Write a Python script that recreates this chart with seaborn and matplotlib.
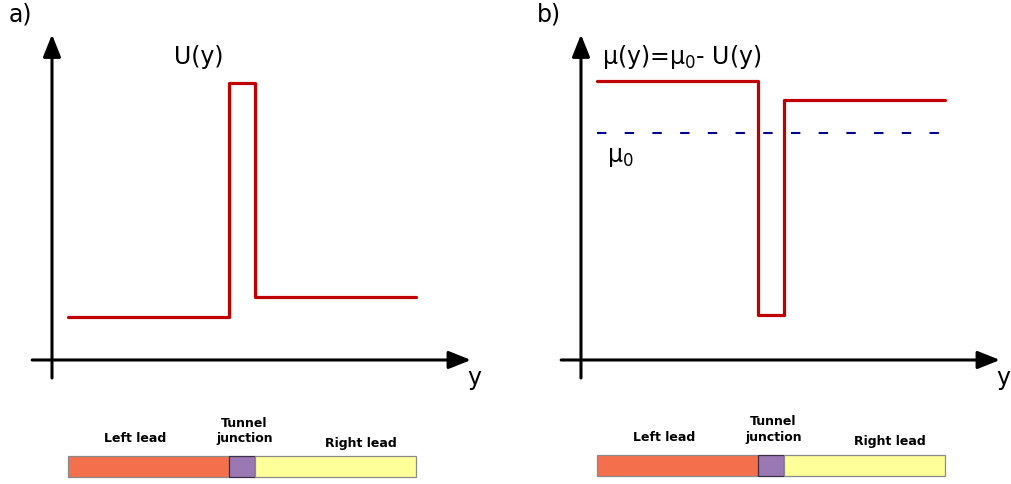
import matplotlib
matplotlib.use('Agg')
import matplotlib.pyplot as plt
import seaborn as sns

sns.set_style('white')
plt.rcParams['font.family'] = ['DejaVu Sans']
plt.rcParams['text.color'] = 'black'

# Perfil em degraus (posição ao longo do fio, unidades arbitrárias)
edges = [0, 4.63, 5.38, 10]
U_levels = [1.55, 10.0, 2.27]          # painel a) U(y)
mu_levels = [10.07, 1.62, 9.39]        # painel b) mu(y)
mu0 = 8.2
mu0_end = 9.83

# Barra das regiões
seg_left = edges[:-1]
seg_width = [edges[i + 1] - edges[i] for i in range(3)]
seg_colors = ['#f4704c', '#9a78b4', '#ffff99']
seg_edges = ['#8a8a8a', '#3a2f45', '#8a8a8a']
seg_names = ['Left lead', 'Tunnel\njunction', 'Right lead']
seg_text_x = [1.92, 5.07, 8.43]
seg_text_y = [-2.85, -2.56, -3.0]

RED = '#c00000'
BLUE = '#00008f'

fig = plt.figure(figsize=(10.12, 4.84), dpi=100)
W, H = 1012, 484
ax_a = fig.add_axes([0 / W, 0, 480 / W, 1])
ax_b = fig.add_axes([529 / W, 0, 480 / W, 1])


def desenha_eixos(ax, letra):
    ax.set_xlim(-1.954, 11.84)
    ax.set_ylim(-4.477, 12.996)
    ax.axis('off')
    seta = dict(arrowstyle='-|>,head_length=0.5,head_width=0.2', lw=2.2,
                color='black', mutation_scale=27, shrinkA=0, shrinkB=0)
    ax.annotate('', xy=(-0.46, 11.75), xytext=(-0.46, -0.65), arrowprops=seta)
    ax.annotate('', xy=(11.58, 0), xytext=(-1.03, 0), arrowprops=seta)
    ax.text(11.67, -0.65, 'y', fontsize=17, ha='center', va='center')
    ax.text(-1.72, 12.49, letra, fontsize=17, ha='left', va='center')


def desenha_barra(ax, dy):
    ax.barh(y=-3.855 + dy, width=seg_width, left=seg_left, height=0.77,
            color=seg_colors, edgecolor=seg_edges, linewidth=0.9)
    for nome, tx, ty in zip(seg_names, seg_text_x, seg_text_y):
        ax.text(tx, ty + dy, nome, fontsize=9, fontweight='bold',
                ha='center', va='center', linespacing=1.25)


# a)
desenha_eixos(ax_a, 'a)')
sns.lineplot(x=edges, y=U_levels + U_levels[-1:], ax=ax_a, color=RED, lw=2.3,
             drawstyle='steps-post', solid_joinstyle='round')
ax_a.text(3.76, 10.94, 'U(y)', fontsize=17, ha='center', va='center')
desenha_barra(ax_a, 0)

# b)
desenha_eixos(ax_b, 'b)')
sns.lineplot(x=edges, y=mu_levels + mu_levels[-1:], ax=ax_b, color=RED, lw=2.3,
             drawstyle='steps-post', solid_joinstyle='round')
sns.lineplot(x=[0, mu0_end], y=[mu0, mu0], ax=ax_b, color=BLUE, lw=1.5,
             linestyle=(0, (4.5, 8.8)))
ax_b.text(0.14, 10.94, r'μ(y)=μ$_0$- U(y)', fontsize=17, ha='left', va='center')
ax_b.text(0.29, 7.33, r'μ$_0$', fontsize=17, ha='left', va='center')
desenha_barra(ax_b, 0.05)

fig.savefig('out.png', dpi=100)
